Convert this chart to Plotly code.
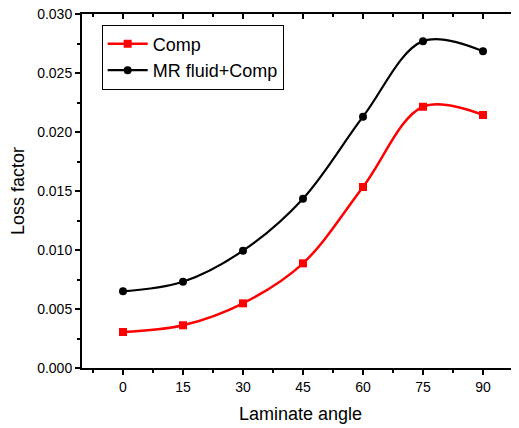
import plotly.graph_objects as go

angles = [0, 15, 30, 45, 60, 75, 90]
comp = [0.00305, 0.00362, 0.00548, 0.00887, 0.01534, 0.02214, 0.02144]
mr_comp = [0.0065, 0.00731, 0.00994, 0.01435, 0.0213, 0.0277, 0.02684]
x_ticks = [0, 15, 30, 45, 60, 75, 90]
y_ticks = [0.0, 0.005, 0.01, 0.015, 0.02, 0.025, 0.03]

FONT = "Liberation Sans, Arial, sans-serif"
xr = [-10.25, 99.0]
yr = [0.0, 0.030]
x_minor = [-7.5, 7.5, 22.5, 37.5, 52.5, 67.5, 82.5, 97.5]
y_minor = [0.0025, 0.0075, 0.0125, 0.0175, 0.0225, 0.0275]

fig = go.Figure()
fig.add_trace(go.Scatter(
    x=angles, y=comp, name="Comp", mode="lines+markers",
    line=dict(color="#ff0000", width=2.5, shape="spline", smoothing=1.0),
    marker=dict(symbol="square", size=8, color="#ff0000"),
))
fig.add_trace(go.Scatter(
    x=angles, y=mr_comp, name="MR fluid+Comp", mode="lines+markers",
    line=dict(color="#000000", width=2.2, shape="spline", smoothing=1.0),
    marker=dict(symbol="circle", size=8, color="#000000"),
))

# page body has an 8px margin, so the figure is sized to fit the 519x428 window
fig.update_layout(
    width=511, height=420,
    margin=dict(l=74, r=0, t=6, b=60),
    paper_bgcolor="white", plot_bgcolor="white",
    font=dict(family=FONT, size=14, color="black"),
    showlegend=True,
    legend=dict(
        x=0.045, y=0.97, xanchor="left", yanchor="top",
        bordercolor="black", borderwidth=1, bgcolor="white",
        font=dict(family=FONT, size=18, color="black"),
        tracegroupgap=0, itemwidth=40,
    ),
    xaxis=dict(
        range=xr, tickmode="array", tickvals=x_ticks, ticktext=[str(v) for v in x_ticks],
        ticks="outside", ticklen=5, tickwidth=1.5, tickcolor="black", automargin=False,
        showline=True, linewidth=2, linecolor="black", showgrid=False, zeroline=False,
        ticklabeloverflow="allow",
        minor=dict(tickmode="array", tickvals=x_minor,
                   ticks="outside", ticklen=3, tickwidth=1.5, tickcolor="black"),
        title=dict(text="Laminate angle", font=dict(family=FONT, size=18), standoff=14),
        tickfont=dict(family=FONT, size=14),
    ),
    yaxis=dict(
        range=yr, tickmode="array", tickvals=y_ticks, ticktext=[f"{v:.3f}" for v in y_ticks],
        ticks="outside", ticklen=5, tickwidth=1.5, tickcolor="black", automargin=False,
        showline=True, linewidth=2, linecolor="black", showgrid=False, zeroline=False,
        ticklabeloverflow="allow",
        minor=dict(tickmode="array", tickvals=y_minor,
                   ticks="outside", ticklen=3, tickwidth=1.5, tickcolor="black"),
        title=dict(text="Loss factor", font=dict(family=FONT, size=18), standoff=10),
        tickfont=dict(family=FONT, size=14),
    ),
    xaxis2=dict(
        overlaying="x", side="top", range=xr, tickmode="array", tickvals=x_ticks,
        showticklabels=False, ticks="inside", ticklen=5, tickwidth=1.5, tickcolor="black",
        showline=True, linewidth=2, linecolor="black", showgrid=False, zeroline=False,
        automargin=False,
        minor=dict(tickmode="array", tickvals=x_minor,
                   ticks="inside", ticklen=3, tickwidth=1.5, tickcolor="black"),
    ),
    yaxis2=dict(
        overlaying="y", side="right", range=yr, tickmode="array", tickvals=y_ticks,
        showticklabels=False, ticks="inside", ticklen=5, tickwidth=1.5, tickcolor="black",
        showline=False, showgrid=False, zeroline=False, automargin=False,
        minor=dict(tickmode="array", tickvals=y_minor,
                   ticks="inside", ticklen=3, tickwidth=1.5, tickcolor="black"),
    ),
)
fig.add_trace(go.Scatter(x=[None], y=[None], xaxis="x2", yaxis="y2", showlegend=False,
                         hoverinfo="skip"))

fig.write_html("out.html")
